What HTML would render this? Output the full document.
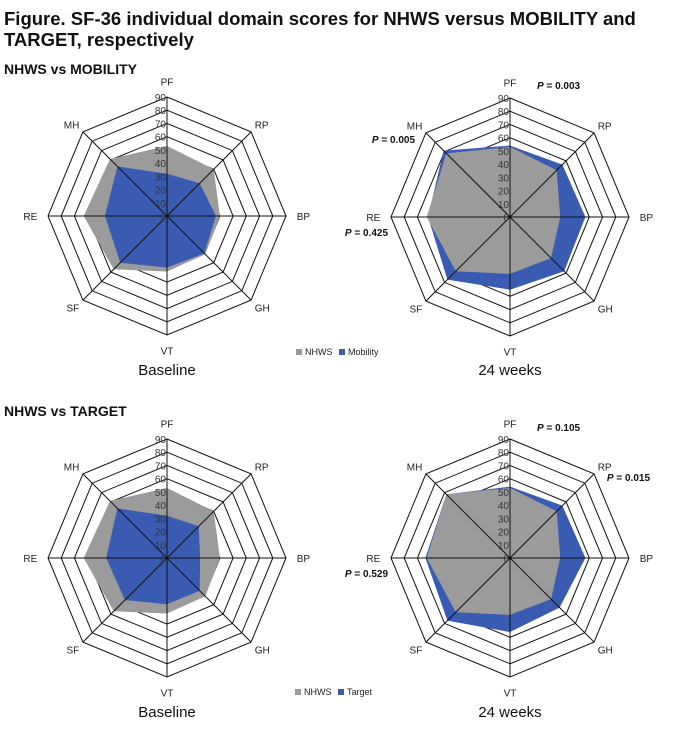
<!DOCTYPE html>
<html><head><meta charset="utf-8">
<style>
body{margin:0;background:#fff;}
svg{display:block;font-family:"Liberation Sans",Arial,sans-serif;}
</style></head>
<body>
<svg id="fig" width="685" height="735" viewBox="0 0 685 735">
<text x="4" y="25" font-size="18.5" font-weight="bold" fill="#111">Figure. SF-36 individual domain scores for NHWS versus MOBILITY and</text>
<text x="4" y="46" font-size="18.5" font-weight="bold" fill="#111">TARGET, respectively</text>
<text x="4" y="74" font-size="14" font-weight="bold" fill="#111">NHWS vs MOBILITY</text>
<text x="4" y="416" font-size="14" font-weight="bold" fill="#111">NHWS vs TARGET</text>
<g id="charts"></g>
</svg>
<script>
const domains = ["PF","RP","BP","GH","VT","SF","RE","MH"];
const ticks = [0,10,20,30,40,50,60,70,80,90];
const nhwsBaseMob = [53,50,40,41,42,57,63,61];
const mobBase = [32,35,37,40,39,50,47,53];
const nhws24Mob = [53,50,38,44,43,58,63,68];
const mob24 = [54,56,57,58,55,67,62,71];
const nhwsBaseTgt = [53,50,40,41,42,57,63,61];
const tgtBase = [32,34,25,35,35,45,46,53];
const nhws24Tgt = [53,50,38,44,43,58,63,68];
const tgt24 = [54,56,57,53,56,67,64,68];

const NS = "http://www.w3.org/2000/svg";
const root = document.getElementById("charts");
const MAXV = 90, R = 119;
function mk(tag, attrs, parent){
  const e = document.createElementNS(NS, tag);
  for (const k in attrs) e.setAttribute(k, attrs[k]);
  parent.appendChild(e);
  return e;
}
function pt(cx, cy, i, v){
  const a = -Math.PI/2 + i*Math.PI/4;
  const r = v/MAXV*R;
  return [cx + r*Math.cos(a), cy + r*Math.sin(a)];
}
function poly(cx, cy, vals){
  return vals.map((v,i)=>pt(cx,cy,i,v).map(n=>n.toFixed(1)).join(",")).join(" ");
}
function radar(id, cx, cy, gray, blue, grayOnTop, pvals){
  const g = mk("g", {}, root);
  
  
  ticks.slice(1).forEach(t=>{
    const ring = mk("polygon", {points: poly(cx,cy,domains.map(()=>t)), fill:"none", stroke:"#111", "stroke-width":"1"}, g);
    
    
  });
  const order = grayOnTop ? [["blue",blue],["gray",gray]] : [["gray",gray],["blue",blue]];
  order.forEach(([c,vals])=>{
    const p = mk("polygon", {points: poly(cx,cy,vals), fill: c==="gray" ? "#9b9b9b" : "#3a5bb2", stroke:"none"}, g);
    
    
  });
  domains.forEach((d,i)=>{
    const [x,y] = pt(cx,cy,i,MAXV);
    const ax = mk("line", {x1:cx,y1:cy,x2:x.toFixed(1),y2:y.toFixed(1),stroke:"#111","stroke-width":"1"}, g);
    
    
    const [lx,ly] = pt(cx,cy,i,MAXV*1.09);
    const anchor = (i===0||i===4) ? "middle" : (i<4 ? "start" : "end");
    let dy = 4;
    if (i===0) dy = -1; if (i===4) dy = 9;
    const lbl = mk("text", {x:(lx + (i===1||i===3? -4 : (i===5||i===7? 4:0))).toFixed(1), y:(ly+dy).toFixed(1), "font-size":"10", fill:"#222", "text-anchor":anchor}, g);
    lbl.textContent = d;
    
    
  });
  ticks.forEach(t=>{
    const [x,y] = pt(cx,cy,0,t);
    const tl = mk("text", {x:(cx-1).toFixed(1), y:(y+4).toFixed(1), "font-size":"10", fill:"#333", "text-anchor":"end"}, g);
    tl.textContent = t;
    
    
  });
  (pvals||[]).forEach(p=>{
    const t = mk("text", {x:cx+p[1], y:cy+p[2], "font-size":"10", "font-weight":"bold", fill:"#111", "text-anchor":p[3]}, g);
    const i1 = mk("tspan", {"font-style":"italic"}, t); i1.textContent = "P";
    const i2 = mk("tspan", {}, t); i2.textContent = " = " + p[0];
    
    
  });
}
function legend(x, y, name){
  const g = mk("g", {}, root);
  
  
  mk("rect", {x:x, y:y-6, width:6, height:6, fill:"#9b9b9b"}, g);
  const t1 = mk("text", {x:x+9, y:y, "font-size":"9", fill:"#222"}, g); t1.textContent = "NHWS";
  
  
  mk("rect", {x:x+43, y:y-6, width:6, height:6, fill:"#3a5bb2"}, g);
  const t2 = mk("text", {x:x+52, y:y, "font-size":"9", fill:"#222"}, g); t2.textContent = name;
  
  
}
function caption(x, y, s){
  const t = mk("text", {x:x, y:y, "font-size":"15", fill:"#111", "text-anchor":"middle"}, root);
  t.textContent = s;
  
  
}
radar("radar-mobility-baseline", 167, 216, nhwsBaseMob, mobBase, false, []);
radar("radar-mobility-24wk", 510, 217, nhws24Mob, mob24, true,
  [["0.003",27,-128,"start"],["0.005",-95,-74,"end"],["0.425",-122,19,"end"]]);
radar("radar-target-baseline", 167, 558, nhwsBaseTgt, tgtBase, false, []);
radar("radar-target-24wk", 510, 558, nhws24Tgt, tgt24, true,
  [["0.105",27,-127,"start"],["0.015",140,-77,"end"],["0.529",-122,19,"end"]]);
legend(296, 355, "Mobility");
legend(295, 695, "Target");
caption(167, 375, "Baseline");
caption(510, 375, "24 weeks");
caption(167, 717, "Baseline");
caption(510, 717, "24 weeks");
</script>
</body></html>
